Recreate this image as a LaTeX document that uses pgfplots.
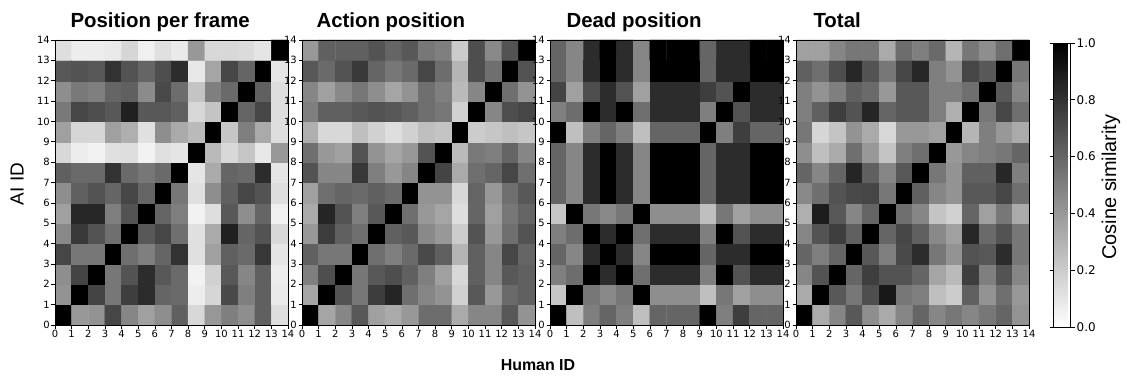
\documentclass[border=0pt]{standalone}
\usepackage{pgfplots}
\pgfplotsset{compat=1.18}
\usepackage{pgfplotstable}
\usepackage{fontspec}
\setmainfont{Liberation Sans}
\newfontfamily\dejavu{DejaVu Sans}

% Panel 1: Position per frame (rows y=0..13 bottom to top, x=0..13)
\pgfplotstableread[row sep=\\]{
c\\
1.00\\ 0.40\\ 0.42\\ 0.72\\ 0.47\\ 0.37\\ 0.44\\ 0.62\\ 0.15\\ 0.40\\ 0.50\\ 0.44\\ 0.62\\ 0.13\\
0.42\\ 1.00\\ 0.73\\ 0.53\\ 0.75\\ 0.82\\ 0.60\\ 0.58\\ 0.07\\ 0.16\\ 0.71\\ 0.50\\ 0.62\\ 0.08\\
0.44\\ 0.73\\ 1.00\\ 0.53\\ 0.67\\ 0.82\\ 0.65\\ 0.58\\ 0.05\\ 0.18\\ 0.65\\ 0.47\\ 0.62\\ 0.07\\
0.72\\ 0.53\\ 0.53\\ 1.00\\ 0.56\\ 0.50\\ 0.60\\ 0.80\\ 0.12\\ 0.37\\ 0.62\\ 0.58\\ 0.78\\ 0.10\\
0.46\\ 0.77\\ 0.67\\ 0.56\\ 1.00\\ 0.65\\ 0.72\\ 0.56\\ 0.12\\ 0.33\\ 0.87\\ 0.60\\ 0.67\\ 0.15\\
0.37\\ 0.84\\ 0.84\\ 0.50\\ 0.67\\ 1.00\\ 0.60\\ 0.50\\ 0.05\\ 0.13\\ 0.65\\ 0.44\\ 0.60\\ 0.06\\
0.44\\ 0.62\\ 0.67\\ 0.60\\ 0.72\\ 0.60\\ 1.00\\ 0.53\\ 0.12\\ 0.44\\ 0.62\\ 0.72\\ 0.67\\ 0.13\\
0.62\\ 0.58\\ 0.58\\ 0.80\\ 0.58\\ 0.53\\ 0.58\\ 1.00\\ 0.10\\ 0.33\\ 0.60\\ 0.58\\ 0.82\\ 0.10\\
0.15\\ 0.07\\ 0.05\\ 0.12\\ 0.13\\ 0.05\\ 0.12\\ 0.10\\ 1.00\\ 0.27\\ 0.15\\ 0.22\\ 0.09\\ 0.40\\
0.37\\ 0.16\\ 0.16\\ 0.37\\ 0.31\\ 0.12\\ 0.44\\ 0.33\\ 0.27\\ 1.00\\ 0.22\\ 0.50\\ 0.33\\ 0.13\\
0.52\\ 0.72\\ 0.69\\ 0.65\\ 0.87\\ 0.65\\ 0.65\\ 0.62\\ 0.15\\ 0.23\\ 1.00\\ 0.60\\ 0.72\\ 0.13\\
0.44\\ 0.52\\ 0.50\\ 0.60\\ 0.62\\ 0.45\\ 0.71\\ 0.57\\ 0.23\\ 0.50\\ 0.58\\ 1.00\\ 0.62\\ 0.13\\
0.65\\ 0.67\\ 0.65\\ 0.80\\ 0.67\\ 0.60\\ 0.69\\ 0.82\\ 0.09\\ 0.35\\ 0.72\\ 0.60\\ 1.00\\ 0.10\\
0.13\\ 0.07\\ 0.07\\ 0.08\\ 0.16\\ 0.06\\ 0.12\\ 0.08\\ 0.40\\ 0.15\\ 0.15\\ 0.14\\ 0.10\\ 1.00\\
}\dataA

% Panel 2: Action position
\pgfplotstableread[row sep=\\]{
c\\
1.00\\ 0.35\\ 0.47\\ 0.65\\ 0.37\\ 0.33\\ 0.40\\ 0.57\\ 0.57\\ 0.33\\ 0.47\\ 0.47\\ 0.65\\ 0.42\\
0.35\\ 1.00\\ 0.67\\ 0.53\\ 0.76\\ 0.85\\ 0.56\\ 0.47\\ 0.42\\ 0.18\\ 0.65\\ 0.40\\ 0.58\\ 0.62\\
0.50\\ 0.69\\ 1.00\\ 0.53\\ 0.65\\ 0.69\\ 0.62\\ 0.50\\ 0.37\\ 0.15\\ 0.62\\ 0.47\\ 0.65\\ 0.62\\
0.62\\ 0.53\\ 0.53\\ 1.00\\ 0.56\\ 0.50\\ 0.58\\ 0.71\\ 0.62\\ 0.29\\ 0.62\\ 0.47\\ 0.72\\ 0.60\\
0.40\\ 0.76\\ 0.62\\ 0.56\\ 1.00\\ 0.62\\ 0.65\\ 0.46\\ 0.40\\ 0.20\\ 0.67\\ 0.40\\ 0.56\\ 0.67\\
0.33\\ 0.85\\ 0.67\\ 0.50\\ 0.65\\ 1.00\\ 0.56\\ 0.40\\ 0.35\\ 0.13\\ 0.60\\ 0.37\\ 0.53\\ 0.60\\
0.37\\ 0.56\\ 0.60\\ 0.58\\ 0.62\\ 0.58\\ 1.00\\ 0.42\\ 0.42\\ 0.15\\ 0.60\\ 0.40\\ 0.56\\ 0.65\\
0.67\\ 0.47\\ 0.47\\ 0.78\\ 0.50\\ 0.40\\ 0.47\\ 1.00\\ 0.73\\ 0.33\\ 0.56\\ 0.60\\ 0.72\\ 0.56\\
0.56\\ 0.40\\ 0.37\\ 0.67\\ 0.42\\ 0.35\\ 0.40\\ 0.67\\ 1.00\\ 0.27\\ 0.52\\ 0.50\\ 0.60\\ 0.47\\
0.31\\ 0.15\\ 0.15\\ 0.25\\ 0.18\\ 0.13\\ 0.18\\ 0.25\\ 0.23\\ 1.00\\ 0.20\\ 0.22\\ 0.25\\ 0.22\\
0.50\\ 0.62\\ 0.62\\ 0.65\\ 0.67\\ 0.65\\ 0.62\\ 0.56\\ 0.53\\ 0.18\\ 1.00\\ 0.47\\ 0.69\\ 0.72\\
0.47\\ 0.37\\ 0.46\\ 0.53\\ 0.44\\ 0.35\\ 0.42\\ 0.56\\ 0.50\\ 0.27\\ 0.47\\ 1.00\\ 0.56\\ 0.42\\
0.65\\ 0.58\\ 0.67\\ 0.77\\ 0.60\\ 0.53\\ 0.58\\ 0.72\\ 0.57\\ 0.29\\ 0.69\\ 0.56\\ 1.00\\ 0.67\\
0.40\\ 0.62\\ 0.62\\ 0.62\\ 0.67\\ 0.60\\ 0.65\\ 0.53\\ 0.50\\ 0.20\\ 0.69\\ 0.46\\ 0.67\\ 1.00\\
}\dataB

% Panel 3: Dead position
\pgfplotstableread[row sep=\\]{
c\\
1.00\\ 0.25\\ 0.50\\ 0.60\\ 0.50\\ 0.25\\ 0.60\\ 0.60\\ 0.60\\ 1.00\\ 0.50\\ 0.75\\ 0.60\\ 0.60\\
0.22\\ 1.00\\ 0.53\\ 0.46\\ 0.53\\ 1.00\\ 0.44\\ 0.44\\ 0.44\\ 0.25\\ 0.53\\ 0.37\\ 0.44\\ 0.44\\
0.50\\ 0.57\\ 1.00\\ 0.82\\ 1.00\\ 0.56\\ 0.82\\ 0.82\\ 0.82\\ 0.50\\ 1.00\\ 0.67\\ 0.82\\ 0.82\\
0.60\\ 0.47\\ 0.82\\ 1.00\\ 0.82\\ 0.47\\ 1.00\\ 1.00\\ 1.00\\ 0.60\\ 0.82\\ 0.82\\ 1.00\\ 1.00\\
0.50\\ 0.57\\ 1.00\\ 0.82\\ 1.00\\ 0.56\\ 0.82\\ 0.82\\ 0.82\\ 0.50\\ 1.00\\ 0.67\\ 0.82\\ 0.82\\
0.22\\ 1.00\\ 0.53\\ 0.46\\ 0.53\\ 1.00\\ 0.44\\ 0.44\\ 0.44\\ 0.25\\ 0.53\\ 0.37\\ 0.44\\ 0.44\\
0.60\\ 0.47\\ 0.82\\ 1.00\\ 0.82\\ 0.47\\ 1.00\\ 1.00\\ 1.00\\ 0.60\\ 0.82\\ 0.82\\ 1.00\\ 1.00\\
0.60\\ 0.47\\ 0.82\\ 1.00\\ 0.82\\ 0.47\\ 1.00\\ 1.00\\ 1.00\\ 0.60\\ 0.82\\ 0.82\\ 1.00\\ 1.00\\
0.60\\ 0.47\\ 0.82\\ 1.00\\ 0.82\\ 0.47\\ 1.00\\ 1.00\\ 1.00\\ 0.60\\ 0.82\\ 0.82\\ 1.00\\ 1.00\\
1.00\\ 0.25\\ 0.50\\ 0.60\\ 0.50\\ 0.25\\ 0.60\\ 0.60\\ 0.60\\ 1.00\\ 0.50\\ 0.75\\ 0.60\\ 0.60\\
0.50\\ 0.57\\ 1.00\\ 0.82\\ 1.00\\ 0.56\\ 0.82\\ 0.82\\ 0.82\\ 0.50\\ 1.00\\ 0.67\\ 0.82\\ 0.82\\
0.73\\ 0.37\\ 0.69\\ 0.82\\ 0.67\\ 0.37\\ 0.82\\ 0.82\\ 0.82\\ 0.75\\ 0.67\\ 1.00\\ 0.82\\ 0.82\\
0.60\\ 0.47\\ 0.82\\ 1.00\\ 0.82\\ 0.47\\ 1.00\\ 1.00\\ 1.00\\ 0.60\\ 0.82\\ 0.82\\ 1.00\\ 1.00\\
0.60\\ 0.47\\ 0.82\\ 1.00\\ 0.82\\ 0.47\\ 1.00\\ 1.00\\ 1.00\\ 0.60\\ 0.82\\ 0.82\\ 1.00\\ 1.00\\
}\dataC

% Panel 4: Total
\pgfplotstableread[row sep=\\]{
c\\
1.00\\ 0.33\\ 0.47\\ 0.65\\ 0.44\\ 0.33\\ 0.47\\ 0.60\\ 0.47\\ 0.53\\ 0.47\\ 0.53\\ 0.60\\ 0.42\\
0.33\\ 1.00\\ 0.65\\ 0.53\\ 0.69\\ 0.90\\ 0.53\\ 0.50\\ 0.25\\ 0.20\\ 0.62\\ 0.42\\ 0.56\\ 0.40\\
0.47\\ 0.67\\ 1.00\\ 0.60\\ 0.75\\ 0.67\\ 0.67\\ 0.60\\ 0.35\\ 0.27\\ 0.75\\ 0.50\\ 0.67\\ 0.47\\
0.60\\ 0.50\\ 0.60\\ 1.00\\ 0.65\\ 0.50\\ 0.71\\ 0.82\\ 0.53\\ 0.42\\ 0.67\\ 0.65\\ 0.82\\ 0.53\\
0.47\\ 0.67\\ 0.75\\ 0.62\\ 1.00\\ 0.60\\ 0.72\\ 0.62\\ 0.46\\ 0.37\\ 0.84\\ 0.58\\ 0.67\\ 0.53\\
0.31\\ 0.88\\ 0.65\\ 0.47\\ 0.60\\ 1.00\\ 0.56\\ 0.47\\ 0.23\\ 0.18\\ 0.60\\ 0.37\\ 0.53\\ 0.33\\
0.46\\ 0.56\\ 0.67\\ 0.71\\ 0.72\\ 0.53\\ 1.00\\ 0.62\\ 0.47\\ 0.42\\ 0.65\\ 0.65\\ 0.72\\ 0.56\\
0.60\\ 0.47\\ 0.60\\ 0.85\\ 0.62\\ 0.47\\ 0.65\\ 1.00\\ 0.53\\ 0.42\\ 0.62\\ 0.62\\ 0.84\\ 0.50\\
0.44\\ 0.25\\ 0.33\\ 0.56\\ 0.40\\ 0.23\\ 0.50\\ 0.56\\ 1.00\\ 0.40\\ 0.47\\ 0.50\\ 0.53\\ 0.60\\
0.53\\ 0.16\\ 0.23\\ 0.42\\ 0.33\\ 0.15\\ 0.40\\ 0.40\\ 0.37\\ 1.00\\ 0.29\\ 0.50\\ 0.40\\ 0.33\\
0.50\\ 0.62\\ 0.75\\ 0.67\\ 0.85\\ 0.60\\ 0.65\\ 0.65\\ 0.50\\ 0.31\\ 1.00\\ 0.53\\ 0.72\\ 0.56\\
0.50\\ 0.42\\ 0.50\\ 0.62\\ 0.58\\ 0.40\\ 0.65\\ 0.65\\ 0.50\\ 0.50\\ 0.56\\ 1.00\\ 0.65\\ 0.47\\
0.62\\ 0.56\\ 0.69\\ 0.84\\ 0.67\\ 0.53\\ 0.72\\ 0.84\\ 0.50\\ 0.42\\ 0.72\\ 0.65\\ 1.00\\ 0.53\\
0.37\\ 0.37\\ 0.47\\ 0.53\\ 0.53\\ 0.33\\ 0.57\\ 0.50\\ 0.58\\ 0.29\\ 0.53\\ 0.44\\ 0.56\\ 1.00\\
}\dataD

\pgfplotsset{
  colormap={grayr}{gray(0cm)=(1) gray(1cm)=(0)},
  heat/.style={
    scale only axis, width=233bp, height=285bp, anchor=south west,
    xmin=0, xmax=14, ymin=0, ymax=14, enlargelimits=false,
    xtick={0,...,14}, ytick={0,...,14},
    tick align=outside, tick pos=left, major tick length=3.5bp,
    colormap name=grayr, point meta min=0, point meta max=1,
    axis on top, axis line style={line width=0.6bp},
    tick style={black, line width=0.6bp},
    tick label style={font=\dejavu\fontsize{10}{12}\selectfont},
    /pgf/number format/assume math mode=true,
    xticklabel style={inner sep=1.5bp},
    yticklabel style={inner sep=1.5bp},
  },
  cells/.style={matrix plot*, mesh/cols=14, point meta=explicit},
}

\begin{document}
\begin{tikzpicture}
\useasboundingbox (0,0) rectangle (1127bp,378bp);

\begin{axis}[heat, at={(55bp,53bp)}]
\addplot[cells] table[x index=0, y index=0, meta index=0,
    y expr={floor((\coordindex+0.5)/14)+0.5},
    x expr={\coordindex-14*floor((\coordindex+0.5)/14)+0.5}] {\dataA};
\end{axis}

\begin{axis}[heat, at={(302bp,53bp)}, yticklabel={}]
\addplot[cells] table[x index=0, y index=0, meta index=0,
    y expr={floor((\coordindex+0.5)/14)+0.5},
    x expr={\coordindex-14*floor((\coordindex+0.5)/14)+0.5}] {\dataB};
\end{axis}

\begin{axis}[heat, at={(550bp,53bp)}, yticklabel={}]
\addplot[cells] table[x index=0, y index=0, meta index=0,
    y expr={floor((\coordindex+0.5)/14)+0.5},
    x expr={\coordindex-14*floor((\coordindex+0.5)/14)+0.5}] {\dataC};
\end{axis}

\begin{axis}[heat, at={(796bp,53bp)}, yticklabel={},
  colorbar,
  colorbar style={
    at={(parent axis.north east)}, anchor=north west,
    xshift=16bp, yshift=-3bp,
    scale only axis, width=17bp, height=284bp,
    ytick={0,0.2,0.4,0.6,0.8,1},
    tick align=outside, major tick length=4bp,
    tick style={black, line width=0.6bp},
    axis line style={line width=0.6bp},
    yticklabel style={font=\dejavu\fontsize{12}{14}\selectfont, inner sep=2bp,
      /pgf/number format/.cd, fixed, fixed zerofill, precision=1, assume math mode=true},
  }]
\addplot[cells] table[x index=0, y index=0, meta index=0,
    y expr={floor((\coordindex+0.5)/14)+0.5},
    x expr={\coordindex-14*floor((\coordindex+0.5)/14)+0.5}] {\dataD};
\end{axis}

\node[anchor=base west, font=\bfseries\fontsize{20.5}{24}\selectfont] at (67bp,350bp) {Position per frame};
\node[anchor=base west, font=\bfseries\fontsize{20.5}{24}\selectfont] at (313bp,350bp) {Action position};
\node[anchor=base west, font=\bfseries\fontsize{20.5}{24}\selectfont] at (563bp,350bp) {Dead position};
\node[anchor=base west, font=\bfseries\fontsize{20.5}{24}\selectfont] at (810bp,350bp) {Total};

\node[rotate=90, font=\fontsize{19}{22}\selectfont] at (17bp,194bp) {AI ID};
\node[font=\bfseries\fontsize{16}{19}\selectfont] at (538bp,13bp) {Human ID};
\node[rotate=90, font=\fontsize{20}{24}\selectfont] at (1111bp,191bp) {Cosine similarity};
\end{tikzpicture}
\end{document}
